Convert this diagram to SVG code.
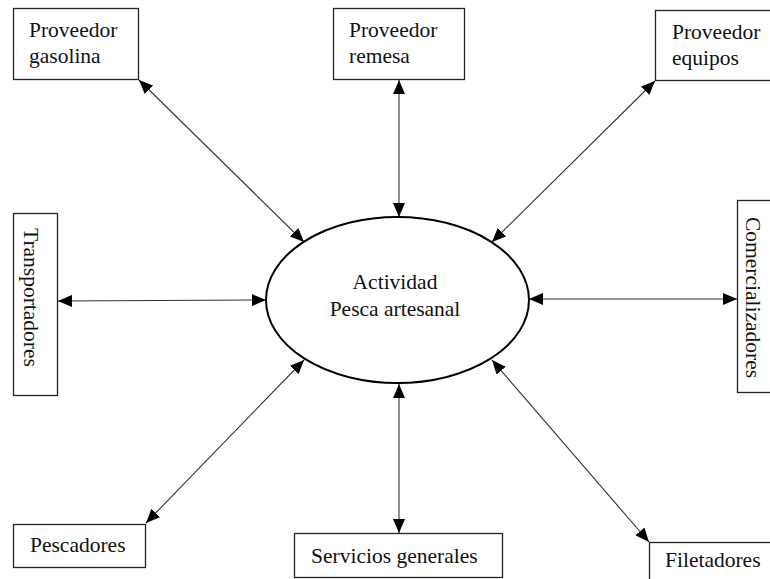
<svg xmlns="http://www.w3.org/2000/svg" width="770" height="579" viewBox="0 0 770 579">
<style>
.box{fill:#fff;stroke:#222;stroke-width:1.3}
.t{font-family:"Liberation Serif","Times New Roman",serif;font-size:21.5px;fill:#111}
.c{stroke:#333;stroke-width:1.1;fill:none;marker-start:url(#ah);marker-end:url(#ah)}
</style>
<defs>
<marker id="ah" markerUnits="userSpaceOnUse" markerWidth="16" markerHeight="12" refX="14" refY="6" orient="auto-start-reverse" viewBox="0 0 16 12">
<path d="M0,0 L14,6 L0,12 Z" fill="#000"/>
</marker>
</defs>
<rect width="770" height="579" fill="#fff"/>
<g id="connectors">
<line class="c" x1="139" y1="80" x2="304" y2="242"/>
<line class="c" x1="399" y1="80" x2="399" y2="217"/>
<line class="c" x1="655" y1="81" x2="492" y2="242"/>
<line class="c" x1="58" y1="301" x2="266" y2="300"/>
<line class="c" x1="529" y1="299" x2="737" y2="299"/>
<line class="c" x1="146" y1="523" x2="304" y2="360"/>
<line class="c" x1="399" y1="384" x2="399" y2="533"/>
<line class="c" x1="492" y1="360" x2="649" y2="542"/>
</g>
<g id="actividad">
<ellipse cx="397.5" cy="300" rx="131.5" ry="83" fill="#fff" stroke="#000" stroke-width="2"/>
<text class="t" x="395" y="289" text-anchor="middle">Actividad</text>
<text class="t" x="395" y="316" text-anchor="middle">Pesca artesanal</text>
</g>
<g id="proveedor-gasolina">
<rect class="box" x="13.5" y="8.5" width="125" height="71"/>
<text class="t" x="29" y="37">Proveedor</text>
<text class="t" x="29" y="63">gasolina</text>
</g>
<g id="proveedor-remesa">
<rect class="box" x="333.5" y="8.5" width="131" height="71"/>
<text class="t" x="349" y="37">Proveedor</text>
<text class="t" x="349" y="63">remesa</text>
</g>
<g id="proveedor-equipos">
<rect class="box" x="655.5" y="10.5" width="120" height="70"/>
<text class="t" x="672" y="39">Proveedor</text>
<text class="t" x="672" y="65">equipos</text>
</g>
<g id="transportadores">
<rect class="box" x="13.5" y="213.5" width="44" height="182"/>
<text class="t" transform="translate(24,228) rotate(90)">Transportadores</text>
</g>
<g id="comercializadores">
<rect class="box" x="737.5" y="200.5" width="40" height="192"/>
<text class="t" transform="translate(746,217) rotate(90)">Comercializadores</text>
</g>
<g id="pescadores">
<rect class="box" x="13.5" y="524.5" width="132" height="43"/>
<text class="t" x="30" y="552">Pescadores</text>
</g>
<g id="servicios-generales">
<rect class="box" x="294.5" y="533.5" width="208" height="44"/>
<text class="t" x="311" y="563">Servicios generales</text>
</g>
<g id="filetadores">
<rect class="box" x="649.5" y="542.5" width="130" height="50"/>
<text class="t" x="665" y="567">Filetadores</text>
</g>
</svg>
